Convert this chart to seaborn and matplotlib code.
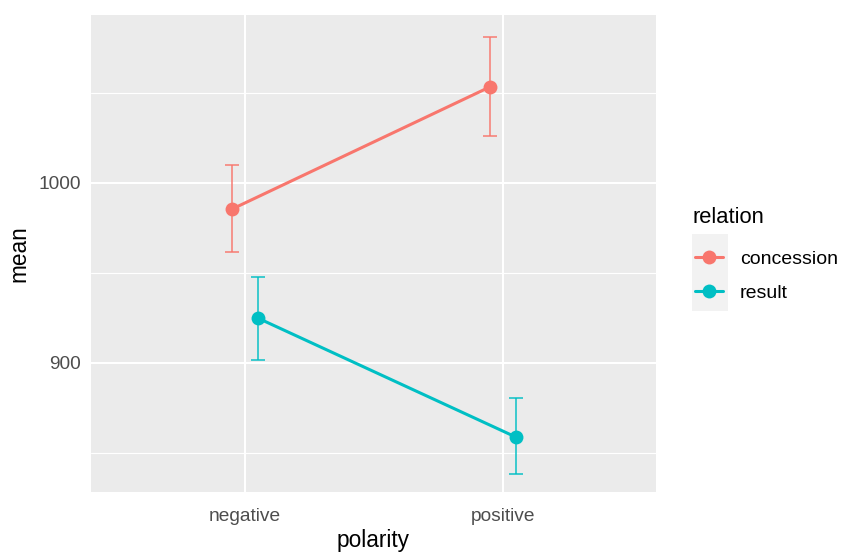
import pandas as pd
import numpy as np
import matplotlib
matplotlib.use("Agg")
import matplotlib.pyplot as plt
import matplotlib.patches as mpatches
import seaborn as sns

# data
polarity = ["negative", "positive"]
relation = ["concession", "result"]
mean_concession = [985.5, 1053.4]
low_concession = [961.6, 1025.9]
high_concession = [1009.7, 1081.3]
mean_result = [924.9, 858.8]
low_result = [901.7, 838.3]
high_result = [947.8, 880.6]

palette = {"concession": "#F8766D", "result": "#00BFC4"}

# style (ggplot-like grey panel)
sns.set_theme(style="darkgrid", rc={
    "axes.facecolor": "#EBEBEB",
    "grid.color": "white",
})
plt.rcParams["font.family"] = ["Liberation Sans", "DejaVu Sans"]

df = pd.DataFrame({
    "polarity": polarity * 2,
    "relation": [relation[0]] * 2 + [relation[1]] * 2,
    "mean": mean_concession + mean_result,
    "low": low_concession + low_result,
    "high": high_concession + high_result,
})
dodge = {"concession": -0.05, "result": 0.05}
df["x"] = df["polarity"].map({p: i for i, p in enumerate(polarity)}) + df["relation"].map(dodge)

fig = plt.figure(figsize=(8.43, 5.52), dpi=100)
ax = fig.add_axes([91 / 843, 1 - 492 / 552, (656 - 91) / 843, (492 - 15) / 552])

# error bars
for rel in relation:
    sub = df[df["relation"] == rel]
    ax.errorbar(sub["x"], sub["mean"],
                yerr=[sub["mean"] - sub["low"], sub["high"] - sub["mean"]],
                fmt="none", ecolor=palette[rel], elinewidth=1.4, capsize=4.7,
                capthick=1.4, alpha=0.75, zorder=2)

sns.lineplot(data=df, x="x", y="mean", hue="relation", palette=palette,
             marker="o", markersize=10, markeredgewidth=0, linewidth=2.2,
             ax=ax, zorder=3)

# axes
ax.set_xlim(-0.597, 1.593)
ax.set_ylim(828.3, 1093.3)
ax.set_xticks(range(len(polarity)))
ax.set_xticklabels(polarity)
ax.set_yticks([900, 1000])
ax.set_yticks([850, 950, 1050], minor=True)
ax.grid(which="major", color="white", linewidth=1.5)
ax.grid(which="minor", axis="y", color="white", linewidth=0.8)
ax.tick_params(axis="both", which="major", length=4, width=1.1, color="#333333",
               labelsize=13.8, labelcolor="#4D4D4D")
ax.tick_params(axis="x", pad=7.5)
ax.tick_params(axis="y", pad=3)
ax.tick_params(which="minor", length=0)
for s in ax.spines.values():
    s.set_visible(False)
ax.set_xlabel("polarity", fontsize=16.3, color="black", labelpad=3)
ax.set_ylabel("mean", fontsize=16.3, color="black", labelpad=6)

# legend
handles, labels = ax.get_legend_handles_labels()
ax.legend_.remove()
fig.patches.append(mpatches.Rectangle((692 / 843, 1 - 311 / 552), 36 / 843, 77 / 552,
                                      transform=fig.transFigure, facecolor="#F2F2F2",
                                      edgecolor="none", zorder=0))
fig.text(693 / 843, 1 - 217 / 552, "relation", ha="left", va="center",
         fontsize=15.8, color="black")
leg = fig.legend(handles, labels, loc="upper left",
                 bbox_to_anchor=(695 / 843, 1 - 250.5 / 552), frameon=False,
                 fontsize=14, handlelength=1.45, borderpad=0, borderaxespad=0,
                 handletextpad=0.85, labelspacing=0.85)
for t in leg.get_texts():
    t.set_color("black")

fig.savefig("out.png", dpi=100)
